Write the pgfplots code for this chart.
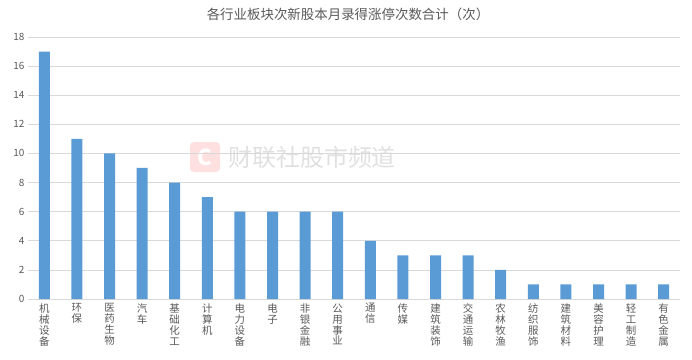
\documentclass[border=0pt]{standalone}
\usepackage{pgfplots}
\pgfplotsset{compat=1.18}
\usepackage{fontspec}
\setmainfont{Noto Sans CJK SC}
\definecolor{barblue}{HTML}{5B9BD5}
\definecolor{txtgray}{HTML}{595959}
\definecolor{gridgray}{HTML}{D9D9D9}
\begin{document}
\begin{tikzpicture}[x=1bp,y=1bp]
\useasboundingbox (0,0) rectangle (692,359);
\node[font=\fontsize{13.5}{14}\selectfont, text=txtgray] at (348,345) {各行业板块次新股本月录得涨停次数合计（次）};
% watermark
\node[fill=red!12, rounded corners=4bp, minimum width=30bp, minimum height=30bp, text=white, font=\fontsize{22}{22}\selectfont\bfseries] at (205,202) {C};
\node[anchor=west, text=black!12, font=\fontsize{24}{24}\selectfont] at (225,202) {财联社股市频道};
\begin{axis}[
  at={(28bp,60bp)}, anchor=south west,
  scale only axis, width=652bp, height=262bp,
  xmin=-0.5, xmax=19.5, ymin=0, ymax=18,
  ytick={0,2,...,18},
  xtick={0,...,19},
  xticklabels={机\\械\\设\\备,环\\保,医\\药\\生\\物,汽\\车,基\\础\\化\\工,计\\算\\机,电\\力\\设\\备,电\\子,非\\银\\金\\融,公\\用\\事\\业,通\\信,传\\媒,建\\筑\\装\\饰,交\\通\\运\\输,农\\林\\牧\\渔,纺\\织\\服\\饰,建\\筑\\材\\料,美\\容\\护\\理,轻\\工\\制\\造,有\\色\\金\\属},
  xticklabel style={align=center, anchor=north, font=\fontsize{10.5}{11}\selectfont, text=txtgray, yshift=-1bp},
  yticklabel style={font=\fontsize{10}{11}\selectfont, text=txtgray},
  /pgf/number format/assume math mode=true,
  major tick length=0pt,
  ymajorgrids, grid style={gridgray, line width=0.6pt},
  axis line style={draw=none},
  axis x line*=bottom,
  x axis line style={draw=gridgray, line width=0.8pt},
  ybar, bar width=11bp,
]
\addplot[fill=barblue, draw=none] coordinates {
(0,17) (1,11) (2,10) (3,9) (4,8) (5,7) (6,6) (7,6) (8,6) (9,6)
(10,4) (11,3) (12,3) (13,3) (14,2) (15,1) (16,1) (17,1) (18,1) (19,1)};
\end{axis}
\end{tikzpicture}
\end{document}
